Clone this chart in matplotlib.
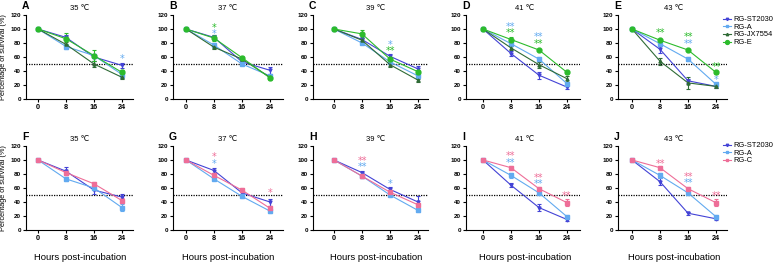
import matplotlib.pyplot as plt
from matplotlib.lines import Line2D

plt.rcParams['font.family'] = ['Liberation Sans', 'DejaVu Sans']

hours = [0, 8, 16, 24]
temps = ['35 ℃', '37 ℃', '39 ℃', '41 ℃', '43 ℃']
letters_top = ['A', 'B', 'C', 'D', 'E']
letters_bot = ['F', 'G', 'H', 'I', 'J']

# top row: RG-ST2030, RG-A, RG-JX7554, RG-E  (one list per temperature)
st2030_top = [[100, 88, 60, 48], [100, 88, 53, 41], [100, 85, 61, 43], [100, 65, 34, 17], [100, 71, 26, 18]]
st2030_top_err = [[0, 4, 5, 4], [0, 3, 3, 5], [0, 3, 3, 4], [0, 3, 5, 2], [0, 5, 3, 2]]
a_top = [[100, 75, 62, 35], [100, 77, 50, 33], [100, 80, 53, 33], [100, 79, 57, 22], [100, 79, 57, 21]]
a_top_err = [[0, 3, 3, 5], [0, 3, 2, 3], [0, 2, 3, 2], [0, 3, 3, 2], [0, 3, 3, 2]]
jx_top = [[100, 78, 50, 31], [100, 74, 57, 31], [100, 84, 49, 27], [100, 73, 49, 29], [100, 54, 23, 18]]
jx_top_err = [[0, 3, 4, 2], [0, 2, 2, 2], [0, 3, 3, 2], [0, 3, 4, 4], [0, 5, 8, 2]]
e_top = [[100, 86, 62, 38], [100, 87, 59, 30], [100, 93, 57, 39], [100, 85, 70, 38], [100, 84, 70, 38]]
e_top_err = [[0, 8, 8, 3], [0, 4, 2, 3], [0, 6, 3, 3], [0, 3, 2, 2], [0, 2, 2, 2]]

# bottom row: RG-ST2030, RG-A, RG-C
st2030_bot = [[100, 84, 57, 47], [100, 85, 53, 40], [100, 82, 58, 40], [100, 64, 32, 15], [100, 69, 24, 16]]
st2030_bot_err = [[0, 6, 5, 4], [0, 3, 2, 5], [0, 2, 3, 8], [0, 3, 5, 2], [0, 5, 2, 2]]
a_bot = [[100, 73, 60, 32], [100, 73, 48, 27], [100, 77, 50, 28], [100, 78, 53, 19], [100, 78, 53, 19]]
a_bot_err = [[0, 3, 3, 5], [0, 2, 2, 2], [0, 2, 2, 2], [0, 3, 3, 2], [0, 3, 3, 2]]
c_bot = [[100, 82, 66, 42], [100, 78, 57, 31], [100, 77, 54, 36], [100, 89, 59, 39], [100, 89, 59, 39]]
c_bot_err = [[0, 3, 2, 4], [0, 3, 3, 3], [0, 2, 3, 3], [0, 2, 3, 5], [0, 2, 3, 5]]

# significance marks: (panel, hour, text, series, level)
stars_top = [(0, 24, '*', 'A', 57),
             (1, 8, '*', 'E', 101), (1, 8, '*', 'A', 93),
             (2, 16, '*', 'A', 77), (2, 16, '**', 'E', 69),
             (3, 8, '**', 'A', 103), (3, 8, '**', 'E', 94),
             (3, 16, '**', 'A', 88), (3, 16, '**', 'E', 79),
             (4, 8, '**', 'E', 95), (4, 16, '**', 'E', 88), (4, 16, '**', 'A', 79),
             (4, 24, '**', 'E', 46), (4, 24, '*', 'A', 27)]
stars_bot = [(1, 8, '*', 'C', 104), (1, 8, '*', 'A', 95), (1, 24, '*', 'C', 53),
             (2, 8, '**', 'C', 99), (2, 8, '**', 'A', 90), (2, 16, '*', 'A', 66),
             (3, 8, '**', 'C', 105), (3, 8, '**', 'A', 96),
             (3, 16, '**', 'C', 75), (3, 16, '**', 'A', 66), (3, 24, '**', 'C', 48),
             (4, 8, '**', 'C', 95), (4, 16, '**', 'C', 76), (4, 16, '**', 'A', 67),
             (4, 24, '**', 'C', 49)]

colors = {'ST': '#4343d6', 'A': '#62aaf0', 'JX': '#2f6b36', 'E': '#2cbb2c', 'C': '#ee6e98'}
markers = {'ST': 'v', 'A': 's', 'JX': '^', 'E': 'o', 'C': 's'}
msize = {'ST': 2.2, 'A': 2.2, 'JX': 2.2, 'E': 3.5, 'C': 2.2}
names = {'ST': 'RG-ST2030', 'A': 'RG-A', 'JX': 'RG-JX7554', 'E': 'RG-E', 'C': 'RG-C'}

W, H = 780, 264
lefts = [26, 173, 313, 466, 618]
zeros = [38, 186, 334, 483, 632]
rights = [133, 283, 428, 580, 727]
pxh = 3.5

fig = plt.figure(figsize=(7.8, 2.64), dpi=100)


def make_axes(i, top, bot):
    ax = fig.add_axes([lefts[i] / W, 1 - bot / H, (rights[i] - lefts[i]) / W, (bot - top) / H])
    ax.set_xlim((lefts[i] - zeros[i]) / pxh, (rights[i] - zeros[i]) / pxh)
    ax.set_ylim(0, 120)
    ax.set_xticks(hours)
    ax.set_yticks(range(0, 121, 20))
    for s in ['top', 'right']:
        ax.spines[s].set_visible(False)
    for s in ['left', 'bottom']:
        ax.spines[s].set_linewidth(0.8)
    ax.tick_params(length=2, width=0.8, pad=1.5)
    for lab in ax.get_xticklabels():
        lab.set_fontsize(5.2)
        lab.set_fontweight('bold')
    for lab in ax.get_yticklabels():
        lab.set_fontsize(4.5)
        lab.set_fontweight('bold')
    ax.axhline(50, color='black', ls=(0, (1, 1)), lw=0.9, zorder=1)
    return ax


def draw(ax, key, vals, errs):
    ax.errorbar(hours, vals, yerr=errs, color=colors[key], marker=markers[key],
                ms=msize[key], lw=0.8, elinewidth=0.8, capsize=1.3, capthick=0.8, zorder=3)


def row(top, bot, series, stars, letters, xlabel):
    for i in range(5):
        ax = make_axes(i, top, bot)
        for key, vals, errs in series:
            draw(ax, key, vals[i], errs[i])
        for p, h, txt, key, lev in stars:
            if p == i:
                ax.text(h, lev, txt, color=colors[key], fontsize=7, ha='center', va='center',
                        family='DejaVu Sans')
        ax.text(12, 129, temps[i], fontsize=5.5, ha='center', va='center')
        fig.text((lefts[i] - 4) / W, 1 - (top - 9) / H, letters[i], fontsize=7.5,
                 fontweight='bold', va='center', ha='left')
        if xlabel:
            fig.text((zeros[i] + 12 * pxh) / W, 1 - 257 / H, 'Hours post-incubation',
                     fontsize=6.8, ha='center', va='center')
    fig.text(4 / W, 1 - (top + bot) / 2 / H, 'Percentage of survival (%)', fontsize=5.3,
             rotation=90, ha='center', va='center')


row(15, 99, [('ST', st2030_top, st2030_top_err), ('A', a_top, a_top_err),
             ('JX', jx_top, jx_top_err), ('E', e_top, e_top_err)], stars_top, letters_top, False)
row(146, 230, [('ST', st2030_bot, st2030_bot_err), ('A', a_bot, a_bot_err),
               ('C', c_bot, c_bot_err)], stars_bot, letters_bot, True)


def legend(keys, y0):
    handles = [Line2D([], [], color=colors[k], marker=markers[k], ms=msize[k] * 0.8, lw=0.8) for k in keys]
    fig.legend(handles, [names[k] for k in keys], loc='upper left',
               bbox_to_anchor=(723 / W, 1 - y0 / H), frameon=False, fontsize=5.4,
               handlelength=1.0, handletextpad=0.4, labelspacing=0.05, borderpad=0, borderaxespad=0)


legend(['ST', 'A', 'JX', 'E'], 16)
legend(['ST', 'A', 'C'], 142)

fig.savefig('out.png', dpi=100)
